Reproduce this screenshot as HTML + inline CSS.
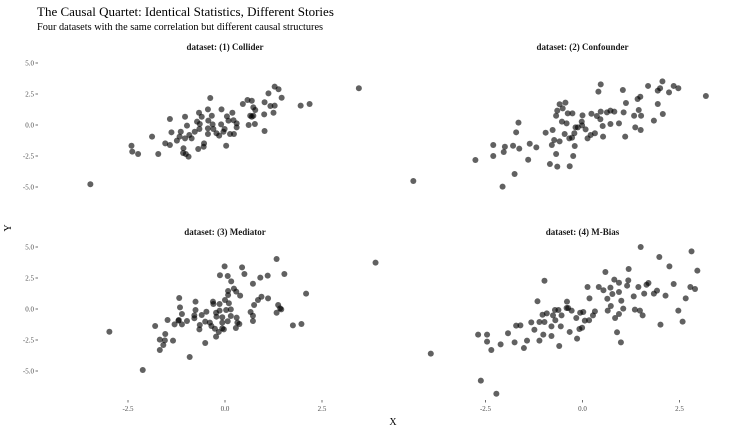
<!DOCTYPE html>
<html><head><meta charset="utf-8"><style>
body{margin:0;background:#fff}
svg{display:block;font-family:"Liberation Serif",serif}
</style></head><body>
<svg id="chart" width="756" height="432">
<text x="37" y="16" font-size="13" fill="#000">The Causal Quartet: Identical Statistics, Different Stories</text>
<text x="37" y="30" font-size="10.3" fill="#000">Four datasets with the same correlation but different causal structures</text>
<text x="393" y="425" font-size="10" text-anchor="middle">X</text>
<text x="11" y="228" font-size="10" text-anchor="middle" transform="rotate(-90 11 228)">Y</text>
</svg>
<script>
const panelTitles = ["dataset: (1) Collider","dataset: (2) Confounder","dataset: (3) Mediator","dataset: (4) M-Bias"];
const xTicks = [-2.5, 0, 2.5];
const yTicks = [5, 2.5, 0, -2.5, -5];
const c1x=[-3.47,3.45,1.28,1.38,1.12,1.46,-0.38,0.58,0.69,0.46,1.02,1.17,1.28,1.95,2.18,0.73,0.78,-0.44,-0.09,-0.67,0.19,1.01,1.25,0.65,0.69,0.73,-1.42,-1.03,-0.60,-0.34,0.05,0.22,-0.72,-0.43,0.09,0.30,0.61,0.77,-0.10,-0.98,-0.65,-0.32,-0.66,-0.30,-0.01,-0.44,-0.78,-1.38,-1.14,-0.44,-0.15,0.13,0.23,-1.88,-0.92,-1.17,-1.03,-0.86,-1.24,-1.54,-1.42,-0.54,-0.55,-0.69,0.03,1.02,-2.41,-2.39,-2.24,-1.72,-1.07,-1.08,-1.01,-0.94,0.30,-0.04,-0.22];
const c1y=[-4.78,2.96,3.09,2.88,2.55,2.20,2.18,2.02,1.96,1.69,1.83,1.53,1.56,1.56,1.69,1.42,1.21,1.26,1.26,0.99,0.99,0.86,0.99,0.75,0.67,0.75,0.48,0.67,0.67,0.75,0.70,0.38,0.27,0.35,0.35,0.13,0,0.08,0.05,-0.05,0.08,0.05,-0.32,-0.32,-0.32,-0.27,-0.54,-0.59,-0.54,-0.73,-0.86,-0.73,-0.73,-0.94,-0.81,-0.94,-1.08,-1.08,-1.26,-1.48,-1.61,-1.48,-1.75,-1.94,-1.67,-0.48,-1.67,-2.15,-2.34,-2.34,-1.88,-2.26,-2.34,-2.55,-0.19,-0.54,-0.67];
const c2x=[-4.36,-2.06,-1.75,-2.76,-2.30,-2.30,-2.03,-2.00,-1.79,-1.63,-1.36,-1.19,-1.40,-1.71,-1.65,-0.95,-0.84,-0.65,-0.33,-0.24,-0.68,-0.79,-0.73,-0.59,-0.46,-0.34,-0.27,-0.20,-0.21,-0.12,-0.01,0.08,0.21,0.32,0.13,0.53,0.52,-0.77,-0.59,-0.44,-0.65,-0.68,-0.51,-0.38,-0.26,-0.53,-0.41,0.00,0.23,0.37,0.46,0.47,0.63,0.72,0.82,0.72,0.94,1.10,1.06,1.12,1.36,1.50,1.33,1.45,1.42,1.49,1.51,1.84,1.94,2.07,1.04,1.69,1.94,2.06,2.00,2.23,2.35,2.47,3.18,0.41,0.47,-0.18,-0.02];
const c2y=[-4.52,-4.97,-3.95,-2.82,-2.50,-1.61,-2.18,-1.75,-1.67,-1.91,-1.51,-1.80,-2.80,-0.59,0.19,-0.62,-3.15,-3.36,-3.33,-2.50,-2.34,-1.61,-1.21,-1.32,-0.73,-1.08,-1.02,-1.69,-0.67,-0.19,-0.03,-0.35,-0.81,-0.67,-1.08,-0.94,-0.08,-0.40,1.67,1.80,1.16,0.75,1.34,0.94,0.94,0.27,0.13,0.78,0.91,0.73,0.46,1.08,1.02,1.16,1.08,0.08,0.13,-0.94,1.02,1.77,-0.19,-0.40,0.75,1.21,2.10,2.28,0.75,0.35,1.69,0.89,2.82,3.15,2.77,3.52,2.96,2.63,3.15,2.96,2.34,2.69,3.28,-0.19,0.27];
const c3x=[-2.98,-2.12,-0.91,-1.68,-1.59,-1.68,-1.55,-1.54,-1.34,-1.80,-1.48,-1.30,-1.20,-1.11,-0.98,-1.19,-1.11,-1.16,-1.18,-0.76,-0.79,-0.76,-0.79,-0.66,-0.65,-0.51,-0.51,-0.48,-0.60,-0.39,-0.35,-0.26,-0.23,-0.16,-0.31,-0.30,-0.23,-0.14,-0.07,-0.03,0.07,-0.07,0.03,0.15,0.15,0.30,0.32,0.37,0.28,0.10,-0.14,0.00,0.08,0.23,0.29,0.39,0.08,0.16,0.07,-0.13,-0.01,0.44,0.50,0.72,0.91,1.10,1.53,1.33,0.72,0.72,0.66,0.75,0.85,0.94,1.11,1.37,1.42,1.33,1.45,1.75,1.97,2.09,3.88,-0.07,-0.22];
const c3y=[-1.83,-4.92,-3.87,-3.31,-2.90,-2.47,-2.53,-2.02,-2.55,-1.37,-0.89,-1.24,-0.94,-1.24,-0.97,-0.89,-0.40,0.13,0.89,0.59,-0.51,-0.08,-0.75,-1.64,-1.29,-2.74,-1.02,-0.22,-0.48,-1.10,-1.37,-1.59,-2.23,-1.85,0.59,0.40,-0.30,-0.13,-0.67,-1.64,-0.99,-1.10,-0.08,-0.03,-0.56,-0.70,-1.10,-1.21,-1.53,0.46,0.40,0.73,1.45,1.64,1.40,1.08,1.13,2.23,2.66,2.72,3.44,3.36,2.82,2.04,2.53,2.69,2.82,4.03,-0.97,-0.54,-0.24,0.32,0.73,0.99,0.86,0.32,0.05,-0.30,-0.03,-1.32,-1.21,1.24,3.74,-1.56,-0.62];
const c4x=[-3.91,-2.62,-2.22,-2.69,-2.46,-2.46,-2.35,-2.11,-1.92,-1.75,-1.71,-1.60,-1.51,-1.43,-1.32,-1.24,-1.11,-1.11,-1.01,-1.03,-0.92,-0.98,-0.80,-0.80,-0.76,-0.70,-0.71,-0.62,-0.54,-0.56,-0.60,-0.40,-0.37,-0.28,-0.33,-0.16,-0.14,-0.08,-0.01,-0.06,0.02,0.06,0.17,0.27,0.32,0.13,0.18,0.42,0.54,0.59,0.64,0.65,0.73,0.84,0.72,0.77,0.82,0.94,0.94,0.94,1.00,1.05,0.89,0.99,1.15,1.18,1.19,1.32,1.35,1.44,1.48,1.55,1.50,1.59,1.65,1.70,1.84,1.92,1.98,2.01,2.14,2.24,2.35,2.47,2.58,2.66,2.78,2.81,2.90,2.96,-0.98,-1.16,-0.41];
const c4y=[-3.60,-5.78,-6.83,-2.07,-2.07,-2.63,-3.31,-2.85,-1.96,-2.69,-1.34,-1.32,-3.15,-2.55,-1.08,-1.67,-1.05,-2.55,-2.07,-0.46,-0.35,-1.05,-1.40,-2.18,-0.51,-0.91,-0.08,-0.08,-0.51,-1.40,-2.98,0.59,0.08,-0.13,-1.85,-0.73,-2.39,-1.61,-1.51,-0.30,-0.24,-0.94,-0.91,-0.51,-0.19,1.77,0.86,1.77,1.51,2.98,0.83,-0.13,0.24,-0.73,1.72,1.21,2.37,2.12,1.37,-0.40,0.67,0.03,-1.88,-2.69,1.88,2.31,3.23,1.02,-0.05,1.77,-0.13,-0.51,5.00,1.24,1.96,2.10,1.24,1.48,4.19,-1.26,1.08,3.44,2.02,-0.13,-1.02,0.86,1.77,4.65,1.61,3.09,2.28,0.62,0.08];
const seriesX=[c1x,c2x,c3x,c4x];
const seriesY=[c1y,c2y,c3y,c4y];

const NS="http://www.w3.org/2000/svg";
const svg=document.getElementById('chart');
const XUNIT=38.8, YUNIT=12.4;
const panelX0=[225,582.5,225,582.5];
const panelY0=[125,125,309,309];
const stripY=[50,50,235,235];
function sx(p,v){return panelX0[p]+v*XUNIT;}
function sy(p,v){return panelY0[p]-v*YUNIT;}
function mk(tag,attrs){const e=document.createElementNS(NS,tag);for(const k in attrs)e.setAttribute(k,attrs[k]);svg.appendChild(e);return e;}

for(let p=0;p<4;p++){
  const g=document.createElementNS(NS,'g');
  
  
  svg.appendChild(g);
  const st=mk('text',{x:panelX0[p],y:stripY[p],'font-size':9,'font-weight':'bold','text-anchor':'middle',fill:'#1a1a1a'});
  st.textContent=panelTitles[p];
  
  
  if(p%2===0){
    for(const t of yTicks){
      const tl=mk('text',{x:34,y:sy(p,t)+2.5,'font-size':7,'text-anchor':'end',fill:'#4d4d4d'});
      tl.textContent=(t<0?'-':'')+Math.abs(t).toFixed(1);
      
      
      const tk=mk('line',{x1:35.5,x2:38,y1:sy(p,t),y2:sy(p,t),stroke:'#4d4d4d','stroke-width':0.8});
      
      
    }
  }
  if(p>=2){
    for(const t of xTicks){
      const tk=mk('line',{x1:sx(p,t),x2:sx(p,t),y1:400,y2:402.5,stroke:'#4d4d4d','stroke-width':0.8});
      
      
      const tl=mk('text',{x:sx(p,t),y:411,'font-size':7,'text-anchor':'middle',fill:'#4d4d4d'});
      tl.textContent=(t<0?'-':'')+Math.abs(t).toFixed(1);
      
      
    }
  }
  const xs=seriesX[p], ys=seriesY[p];
  for(let i=0;i<xs.length;i++){
    const c=document.createElementNS(NS,'circle');
    c.setAttribute('cx',sx(p,xs[i]));
    c.setAttribute('cy',sy(p,ys[i]));
    c.setAttribute('r',3);
    c.setAttribute('fill','#000');
    c.setAttribute('fill-opacity',0.62);
    
    
    g.appendChild(c);
  }
}
</script>
</body></html>
